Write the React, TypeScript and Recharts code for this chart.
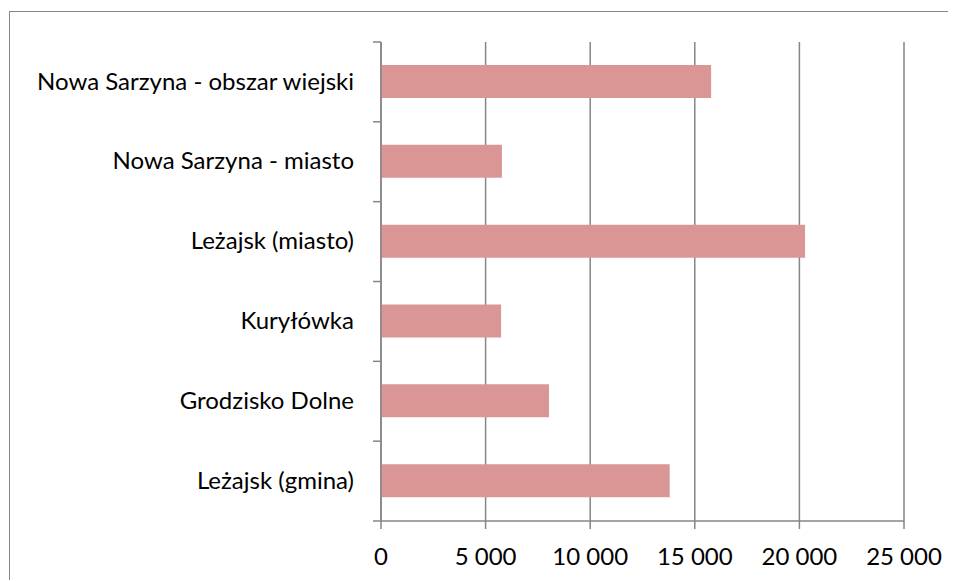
import React from 'react'
import { BarChart, Bar, XAxis, YAxis, CartesianGrid } from 'recharts'

const categories = [
  'Nowa Sarzyna - obszar wiejski',
  'Nowa Sarzyna - miasto',
  'Leżajsk (miasto)',
  'Kuryłówka',
  'Grodzisko Dolne',
  'Leżajsk (gmina)',
]
const values = [15780, 5780, 20270, 5740, 8030, 13800]
const xTicks = [0, 5000, 10000, 15000, 20000, 25000]

const AXIS = '#868686'
const BAR = '#D99694'
const FONT = 'Lato, sans-serif'
const FS = 24

const W = 944
const H = 568
const M = { top: 30, right: 50, left: 0, bottom: 19 }
const Y_W = 371
const X_H = 40
const band = (H - M.top - M.bottom - X_H) / categories.length

const data = categories.map((name, i) => ({ name, value: values[i] }))

const fmt = (v: number) => v.toLocaleString('en-US').replace(/,/g, ' ')

function YTick(props: any) {
  const { x, y, payload, index } = props
  const last = index === categories.length - 1
  return (
    <g>
      <line x1={x - 8} x2={x} y1={y - band / 2} y2={y - band / 2} stroke={AXIS} strokeWidth={1.5} />
      {last && <line x1={x - 8} x2={x} y1={y + band / 2} y2={y + band / 2} stroke={AXIS} strokeWidth={1.5} />}
      <text x={x - 27} y={y} dy="0.32em" textAnchor="end" fill="#000" fontSize={FS} fontFamily={FONT}>
        {payload.value}
      </text>
    </g>
  )
}

export default function App() {
  return (
    <div
      style={{
        width: W + 2,
        height: H,
        borderTop: `1px solid ${AXIS}`,
        borderLeft: `1px solid ${AXIS}`,
        marginLeft: 1,
        marginTop: 3,
        background: '#fff',
      }}
    >
      <BarChart width={W} height={H} data={data} layout="vertical" margin={M}>
        <CartesianGrid horizontal={false} stroke={AXIS} strokeWidth={1.5} />
        <XAxis
          type="number"
          domain={[0, 25000]}
          ticks={xTicks}
          interval={0}
          tickFormatter={fmt}
          height={X_H}
          stroke={AXIS}
          strokeWidth={1.5}
          tickSize={8}
          tickMargin={19}
          tick={{ fill: '#000', fontSize: FS, fontFamily: FONT }}
        />
        <YAxis
          type="category"
          dataKey="name"
          width={Y_W}
          stroke={AXIS}
          strokeWidth={1.5}
          tickLine={false}
          tickSize={0}
          tickMargin={0}
          interval={0}
          tick={<YTick />}
        />
        <Bar dataKey="value" fill={BAR} barSize={33} isAnimationActive={false} />
      </BarChart>
    </div>
  )
}
